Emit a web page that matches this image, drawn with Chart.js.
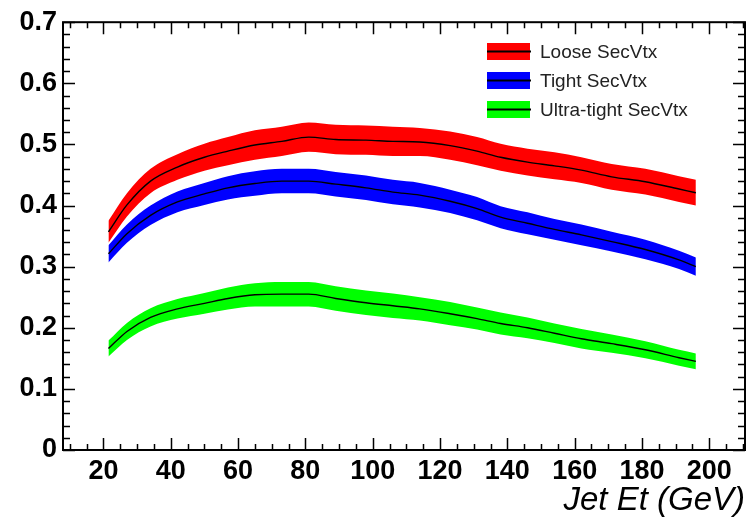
<!DOCTYPE html>
<html>
<head>
<meta charset="utf-8">
<title>SecVtx tag efficiency</title>
<script src="https://cdn.jsdelivr.net/npm/chart.js@4.4.0/dist/chart.umd.min.js"></script>
<style>
    html, body { margin: 0; padding: 0; background: #fff; }
    #wrap { width: 755px; height: 524px; }
</style>
</head>
<body>
<div id="wrap"><canvas id="effChart"></canvas></div>
<script>
// values
const jetEt = [21.5, 27, 34, 42, 50, 57, 65, 73, 81, 89, 98, 106, 114, 123, 131, 138, 146, 154, 162, 171, 181, 191, 196];

const looseEff = [0.357, 0.401, 0.440, 0.463, 0.479, 0.489, 0.499, 0.505, 0.512, 0.508, 0.507, 0.505, 0.504, 0.498, 0.489, 0.479, 0.471, 0.465, 0.458, 0.447, 0.439, 0.427, 0.421];
const looseErr = [0.018, 0.019, 0.020, 0.021, 0.022, 0.023, 0.024, 0.024, 0.024, 0.024, 0.024, 0.024, 0.023, 0.023, 0.023, 0.022, 0.022, 0.022, 0.021, 0.021, 0.021, 0.021, 0.021];

const tightEff = [0.321, 0.354, 0.384, 0.406, 0.419, 0.429, 0.436, 0.440, 0.440, 0.435, 0.429, 0.422, 0.417, 0.407, 0.395, 0.381, 0.371, 0.361, 0.352, 0.341, 0.328, 0.311, 0.300];
const tightErr = [0.014, 0.015, 0.016, 0.017, 0.018, 0.019, 0.020, 0.020, 0.020, 0.020, 0.020, 0.020, 0.020, 0.019, 0.019, 0.018, 0.018, 0.017, 0.017, 0.016, 0.016, 0.015, 0.015];

const ultraEff = [0.166, 0.194, 0.217, 0.231, 0.240, 0.248, 0.254, 0.255, 0.255, 0.248, 0.241, 0.236, 0.231, 0.223, 0.215, 0.207, 0.200, 0.191, 0.182, 0.174, 0.164, 0.151, 0.145];
const ultraErr = [0.013, 0.014, 0.015, 0.016, 0.017, 0.018, 0.019, 0.020, 0.020, 0.020, 0.020, 0.020, 0.019, 0.019, 0.018, 0.018, 0.017, 0.016, 0.016, 0.015, 0.014, 0.013, 0.013];

const seriesLabels = ['Loose SecVtx', 'Tight SecVtx', 'Ultra-tight SecVtx'];
const seriesColors = ['#ff0000', '#0000ff', '#00ff00'];
const seriesEff = [looseEff, tightEff, ultraEff];
const seriesErr = [looseErr, tightErr, ultraErr];

const xTickValues = [20, 40, 60, 80, 100, 120, 140, 160, 180, 200];
const yTickValues = [0, 0.1, 0.2, 0.3, 0.4, 0.5, 0.6, 0.7];
const xAxisTitle = 'Jet Et (GeV)';

const tickFont = { family: "'Liberation Sans', Arial, sans-serif", size: 27, weight: 'bold' };

function points(vals, errs, sign) {
    return jetEt.map((x, i) => ({ x: x, y: vals[i] + sign * errs[i] }));
}

// band = upper edge filled down to lower edge, black central line on top
const datasets = [];
seriesEff.forEach((vals, k) => {
    datasets.push({
        label: seriesLabels[k] + ' up',
        data: points(vals, seriesErr[k], 1),
        borderWidth: 0,
        borderColor: seriesColors[k],
        backgroundColor: seriesColors[k],
        pointRadius: 0,
        cubicInterpolationMode: 'monotone',
        fill: '+1',
        order: 2
    });
    datasets.push({
        label: seriesLabels[k] + ' down',
        data: points(vals, seriesErr[k], -1),
        borderWidth: 0,
        borderColor: seriesColors[k],
        pointRadius: 0,
        cubicInterpolationMode: 'monotone',
        fill: false,
        order: 2
    });
});
seriesEff.forEach((vals, k) => {
    datasets.push({
        label: seriesLabels[k],
        data: points(vals, seriesErr[k], 0),
        borderColor: '#000',
        borderWidth: 1.4,
        pointRadius: 0,
        cubicInterpolationMode: 'monotone',
        fill: false,
        order: 1
    });
});

// ROOT-like frame with ticks on all four sides
const framePlugin = {
    id: 'frame',
    afterDraw(chart) {
        const { ctx, chartArea: a, scales: { x, y } } = chart;
        ctx.save();
        ctx.strokeStyle = '#000';
        ctx.lineWidth = 1.5;
        ctx.beginPath();
        for (let v = 0; v <= 0.7001; v += 0.02) {
            const py = Math.round(y.getPixelForValue(v)) + 0.5;
            const major = Math.abs(v * 10 - Math.round(v * 10)) < 0.001;
            const len = major ? 12 : 7;
            ctx.moveTo(a.left, py); ctx.lineTo(a.left + len, py);
            ctx.moveTo(a.right, py); ctx.lineTo(a.right - len, py);
        }
        for (let v = 10; v <= 210; v += 5) {
            const px = Math.round(x.getPixelForValue(v)) + 0.5;
            const len = v % 20 === 0 ? 12 : 6;
            ctx.moveTo(px, a.bottom); ctx.lineTo(px, a.bottom - len);
            ctx.moveTo(px, a.top); ctx.lineTo(px, a.top + len);
        }
        ctx.stroke();
        ctx.lineWidth = 2;
        ctx.strokeRect(a.left, a.top, a.right - a.left, a.bottom - a.top);
        ctx.restore();
    }
};

const legendPlugin = {
    id: 'bandLegend',
    afterDraw(chart) {
        const ctx = chart.ctx;
        ctx.save();
        ctx.font = "19px 'Liberation Sans', Arial, sans-serif";
        ctx.textBaseline = 'middle';
        seriesLabels.forEach((label, k) => {
            const cy = 51.5 + k * 29;
            ctx.fillStyle = seriesColors[k];
            ctx.fillRect(487, cy - 8.5, 43, 17);
            ctx.strokeStyle = '#000';
            ctx.lineWidth = 2;
            ctx.beginPath();
            ctx.moveTo(487, cy); ctx.lineTo(531, cy);
            ctx.stroke();
            ctx.fillStyle = '#222';
            ctx.fillText(label, 540, cy + 1);
        });
        ctx.restore();
    }
};

const effChart = new Chart(document.getElementById('effChart').getContext('2d'), {
    type: 'line',
    data: { datasets: datasets },
    options: {
        responsive: true,
        maintainAspectRatio: false,
        animation: false,
        layout: { padding: { top: 19, right: 10, left: 0, bottom: 0 } },
        plugins: {
            legend: { display: false },
            tooltip: { enabled: false },
            filler: { propagate: false }
        },
        scales: {
            x: {
                type: 'linear',
                min: 8,
                max: 210.6,
                grid: { display: false, drawTicks: false },
                border: { display: false },
                afterBuildTicks: (s) => { s.ticks = xTickValues.map(v => ({ value: v })); },
                afterFit: (s) => { s.height = 74; },
                ticks: {
                    color: '#000',
                    font: tickFont,
                    padding: 5,
                    maxRotation: 0,
                    autoSkip: false
                },
                title: {
                    display: true,
                    text: xAxisTitle,
                    align: 'end',
                    color: '#000',
                    font: { family: "'Liberation Sans', Arial, sans-serif", size: 33, style: 'italic', lineHeight: 1.2 },
                    padding: { top: 0, bottom: 3 }
                }
            },
            y: {
                min: 0,
                max: 0.7,
                grid: { display: false, drawTicks: false },
                border: { display: false },
                afterBuildTicks: (s) => { s.ticks = yTickValues.map(v => ({ value: v })); },
                afterFit: (s) => { s.width = 63; },
                ticks: {
                    color: '#000',
                    font: tickFont,
                    padding: 6,
                    autoSkip: false,
                    callback: (v) => (v === 0 ? '0' : v.toFixed(1))
                }
            }
        }
    },
    plugins: [framePlugin, legendPlugin]
});
</script>
</body>
</html>
